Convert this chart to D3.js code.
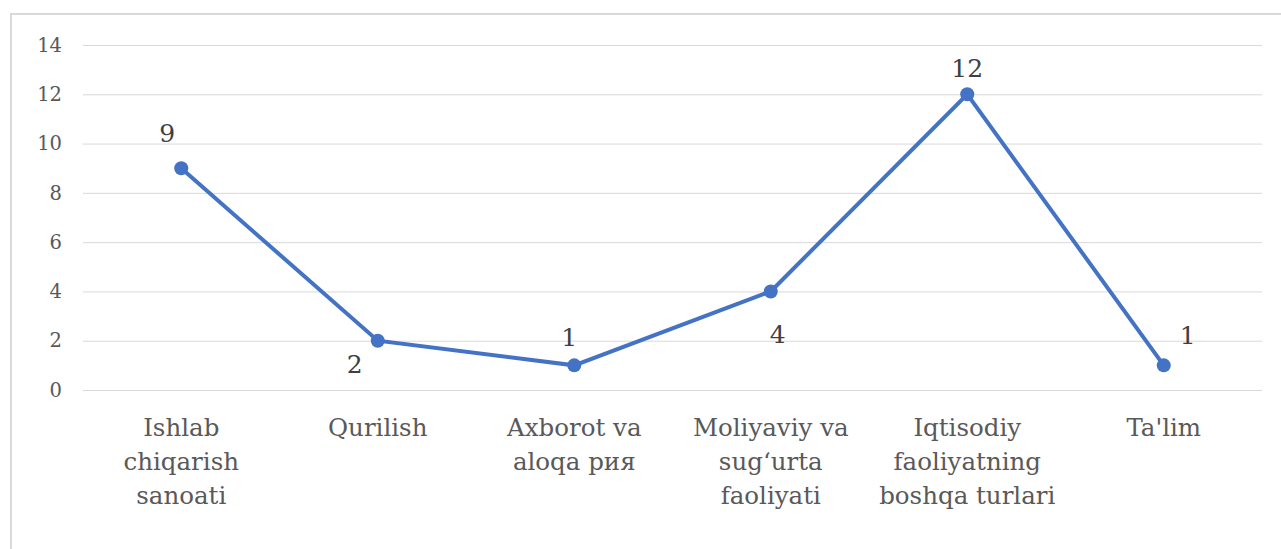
<!DOCTYPE html>
<html>
<head>
  <meta charset="utf-8">
  <style>
    body { margin: 0; background: #fff; }
    .grid line { stroke: #d9d9d9; stroke-width: 1px; }
    .grid path { display: none; }
    .axis--x path, .axis--x line { display: none; }
    .line { fill: none; stroke: #4472c4; stroke-width: 4px; }
  </style>
</head>
<body>
  <svg id="chart" width="1281" height="549"></svg>
  <script src="https://cdn.jsdelivr.net/npm/d3@7"></script>
  <script>
    // categories (each split into the lines shown under the axis)
    var categories = [
      ["Ishlab", "chiqarish", "sanoati"],
      ["Qurilish"],
      ["Axborot va", "aloqa рия"],
      ["Moliyaviy va", "sug‘urta", "faoliyati"],
      ["Iqtisodiy", "faoliyatning", "boshqa turlari"],
      ["Ta'lim"]
    ];
    var values = [9, 2, 1, 4, 12, 1];
    var yTicks = [0, 2, 4, 6, 8, 10, 12, 14];
    // where each data label sits relative to its point
    var labelOffsets = [[-14, -35], [-23, 24], [-5, -28], [7, 43], [0, -26], [24, -30]];

    var svg = d3.select("#chart"),
      margin = { top: 45, right: 19, bottom: 159, left: 83 },
      width = 1281 - margin.left - margin.right,
      height = 549 - margin.top - margin.bottom;

    // chart area border
    svg.append("rect")
      .attr("x", 11).attr("y", 14)
      .attr("width", 1300).attr("height", 600)
      .attr("fill", "none")
      .attr("stroke", "#d9d9d9")
      .attr("stroke-width", 2);

    var g = svg.append("g").attr("transform", "translate(" + margin.left + "," + margin.top + ")");

    var keys = categories.map(function (c, i) { return i; });

    var x = d3.scaleBand().domain(keys).range([0, width]);
    var y = d3.scaleLinear().domain([0, 14]).range([height, 0]);

    // gridlines + y labels
    var gy = g.append("g")
      .attr("class", "grid")
      .call(d3.axisLeft(y).tickValues(yTicks).tickSize(-width).tickPadding(21));
    gy.selectAll("text")
      .style("font-family", "'DejaVu Serif', serif")
      .style("font-size", "19.5px")
      .attr("fill", "#595959");

    // x axis with wrapped category labels
    var gx = g.append("g")
      .attr("class", "axis axis--x")
      .attr("transform", "translate(0," + height + ")")
      .call(d3.axisBottom(x).tickFormat(""));
    gx.selectAll(".tick text").each(function (d) {
      var t = d3.select(this)
        .attr("y", 0)
        .attr("dy", null)
        .attr("fill", "#595959")
        .style("font-family", "'DejaVu Serif', serif")
        .style("font-size", "24.5px");
      t.selectAll("tspan")
        .data(categories[d])
        .enter().append("tspan")
        .attr("x", 0)
        .attr("y", function (s, i) { return 46 + i * 34; })
        .text(function (s) { return s; });
    });

    var cx = function (d, i) { return x(i) + x.bandwidth() / 2; };

    var line = d3.line()
      .x(function (d, i) { return cx(d, i); })
      .y(function (d) { return y(d); });

    g.append("path")
      .datum(values)
      .attr("class", "line")
      .attr("d", line);

    g.selectAll(".dot")
      .data(values)
      .enter().append("circle")
      .attr("class", "dot")
      .attr("cx", cx)
      .attr("cy", function (d) { return y(d); })
      .attr("r", 7)
      .attr("fill", "#4472c4");

    g.selectAll(".label")
      .data(values)
      .enter().append("text")
      .attr("class", "label")
      .attr("x", function (d, i) { return cx(d, i) + labelOffsets[i][0]; })
      .attr("y", function (d, i) { return y(d) + labelOffsets[i][1]; })
      .attr("dy", "0.35em")
      .attr("text-anchor", "middle")
      .attr("fill", "#404040")
      .style("font-family", "'DejaVu Serif', serif")
      .style("font-size", "25px")
      .text(function (d) { return d; });
  </script>
</body>
</html>
